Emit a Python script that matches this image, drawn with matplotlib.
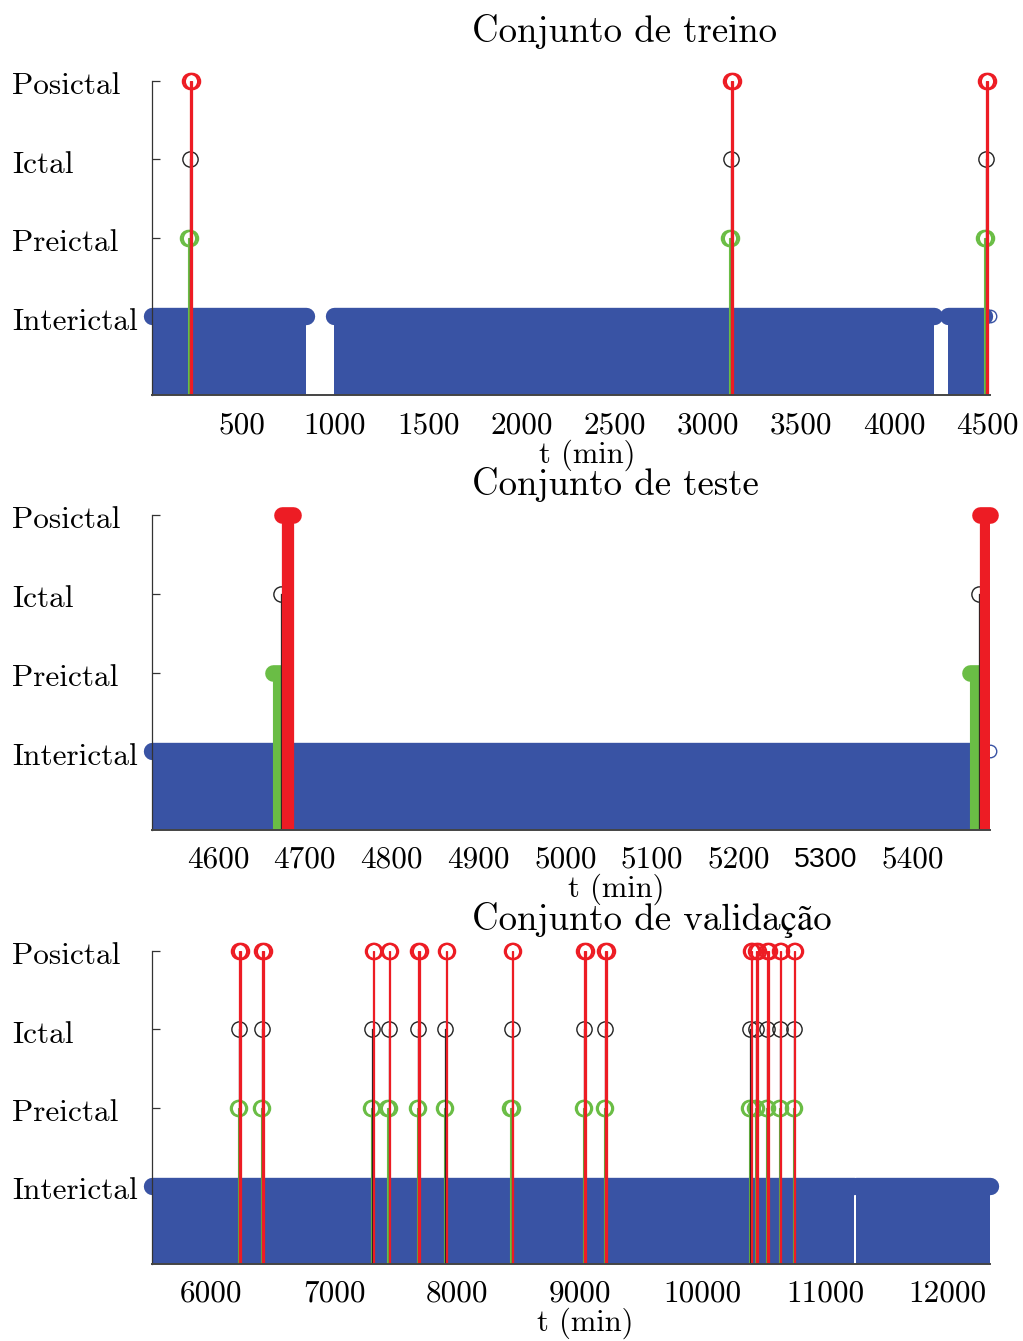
import numpy as np
import matplotlib
matplotlib.use('Agg')
import matplotlib.pyplot as plt
from matplotlib.transforms import ScaledTranslation

plt.rcParams['font.family'] = ['cmr10', 'STIXGeneral', 'DejaVu Serif']
plt.rcParams['axes.formatter.use_mathtext'] = True
plt.rcParams['mathtext.fontset'] = 'cm'

# ---------------- data ----------------
state_labels = ['Interictal', 'Preictal', 'Ictal', 'Posictal']
state_levels = [1, 2, 3, 4]

titles = ['Conjunto de treino', 'Conjunto de teste', 'Conjunto de validação']

train_range = [18, 4514]
test_range = [4524, 5489]
val_range = [5516, 12345]

train_interictal = [[18, 844], [995, 4214], [4289, 4482]]
test_interictal = [[4524, 4663], [4686, 5466]]
val_interictal = [[5516, 11236], [11250, 12345]]

train_onsets = [221, 3124, 4492]
test_onsets = [4673, 5476]
val_onsets = [6227, 6412, 7312, 7445, 7685, 7907, 8446, 9039, 9207,
              10393, 10440, 10528, 10632, 10746]

preictal_dur = 10
ictal_dur = 1
posictal_dur = 12

train_last_sample = [4514]
test_last_sample = [5489]
val_last_sample = []

train_ticks = [500, 1000, 1500, 2000, 2500, 3000, 3500, 4000, 4500]
test_ticks = [4600, 4700, 4800, 4900, 5000, 5100, 5200, 5300, 5400]
val_ticks = [6000, 7000, 8000, 9000, 10000, 11000, 12000]

# ---------------- style ----------------
BLUE = '#3953A4'
GREEN = '#6ABD45'
RED = '#ED1C24'
BLACK = '#222222'
PT = 100 / 72.0  # px per point

W, H = 1023, 1341
fig = plt.figure(figsize=(W / 100, H / 100), dpi=100)

panels = [
    dict(px=(81, 395), xr=train_range, inter=train_interictal, ons=train_onsets,
         last=train_last_sample, ticks=train_ticks, solid=False, title_base=42,
         xlab_x=587, tick_base=39, xlab_top=45),
    dict(px=(515, 830), xr=test_range, inter=test_interictal, ons=test_onsets,
         last=test_last_sample, ticks=test_ticks, solid=True, title_base=495,
         xlab_x=616, tick_base=37, xlab_top=44),
    dict(px=(951, 1264), xr=val_range, inter=val_interictal, ons=val_onsets,
         last=val_last_sample, ticks=val_ticks, solid=False, title_base=930,
         xlab_x=585, tick_base=38, xlab_top=44),
]

L, R = 152, 990
for i, p in enumerate(panels):
    top, bot = p['px']
    ax = fig.add_axes([L / W, 1 - bot / H, (R - L) / W, (bot - top) / H])
    ax.set_xlim(p['xr'])
    ax.set_ylim(0, 4)

    # interictal (dense stems merged)
    for a, b in p['inter']:
        ax.fill_between([a, b], 0, 1, color=BLUE, lw=0, zorder=1)
        ax.plot([a, b], [1, 1], color=BLUE, lw=12.5, solid_capstyle='round',
                clip_on=False, zorder=2)
    for x in p['last']:
        ax.plot([x], [1], 'o', ms=9, mfc='none', mec=BLUE, mew=1.0,
                clip_on=False, zorder=2)

    for t in p['ons']:
        # preictal
        x0, x1 = t - preictal_dur, t
        ax.bar(x0, 2, width=x1 - x0, align='edge', color=GREEN, edgecolor=GREEN,
               lw=0.8, zorder=3)
        if p['solid']:
            ax.plot([x0, x1], [2, 2], color=GREEN, lw=12, solid_capstyle='round',
                    clip_on=False, zorder=3)
        else:
            ax.plot([x0, x1], [2, 2], 'o', ms=11, mfc='none', mec=GREEN, mew=1.6,
                    clip_on=False, zorder=3)
        # ictal
        ax.plot([t, t], [0, 3], color=BLACK, lw=0.9, zorder=4)
        ax.plot([t], [3], 'o', ms=11, mfc='none', mec=BLACK, mew=1.0,
                clip_on=False, zorder=4)
        # posictal
        x0, x1 = t + ictal_dur, t + ictal_dur + posictal_dur
        ax.bar(x0, 4, width=x1 - x0, align='edge', color=RED, edgecolor=RED,
               lw=0.9, zorder=5)
        if p['solid']:
            ax.plot([x0, x1], [4, 4], color=RED, lw=12, solid_capstyle='round',
                    clip_on=False, zorder=5)
        else:
            ax.plot([x0, x1], [4, 4], 'o', ms=11, mfc='none', mec=RED, mew=1.6,
                    clip_on=False, zorder=5)

    for s in ['top', 'right']:
        ax.spines[s].set_visible(False)
    ax.spines['left'].set_color('#333333')
    ax.spines['left'].set_linewidth(0.9)
    ax.spines['bottom'].set_color('#444444')
    ax.spines['bottom'].set_linewidth(1.4)
    ax.spines['bottom'].set_zorder(6)

    ax.set_yticks(state_levels)
    ax.set_yticklabels(state_labels, fontsize=22.5)
    ax.tick_params(axis='y', direction='in', length=6, width=0.9, color='#333333',
                   pad=(L - 12) / PT)

    ax.set_xticks(p['ticks'])
    ax.set_xticklabels([str(v) for v in p['ticks']], fontsize=22.5)
    ax.tick_params(axis='x', length=0, pad=p['tick_base'] / PT)
    for lbl, v in zip(ax.get_xticklabels(), p['ticks']):
        lbl.set_verticalalignment('baseline')
        if i == 1 and v == 5300:
            lbl.set_fontfamily('Liberation Sans')
            lbl.set_fontsize(20.5)

    for lbl in ax.get_yticklabels():
        lbl.set_horizontalalignment('left')
        lbl.set_verticalalignment('baseline')
        lbl.set_transform(lbl.get_transform() +
                          ScaledTranslation(0, -13.5 / 100, fig.dpi_scale_trans))

    ax.set_xlabel('t (min)', fontsize=22)
    ax.xaxis.set_label_coords((p['xlab_x'] - L) / (R - L), -p['xlab_top'] / (bot - top))
    ax.xaxis.label.set_verticalalignment('top')

    fig.text(472 / W, 1 - p['title_base'] / H, titles[i], fontsize=26.5,
             ha='left', va='baseline')

fig.savefig('out.png', dpi=100)
